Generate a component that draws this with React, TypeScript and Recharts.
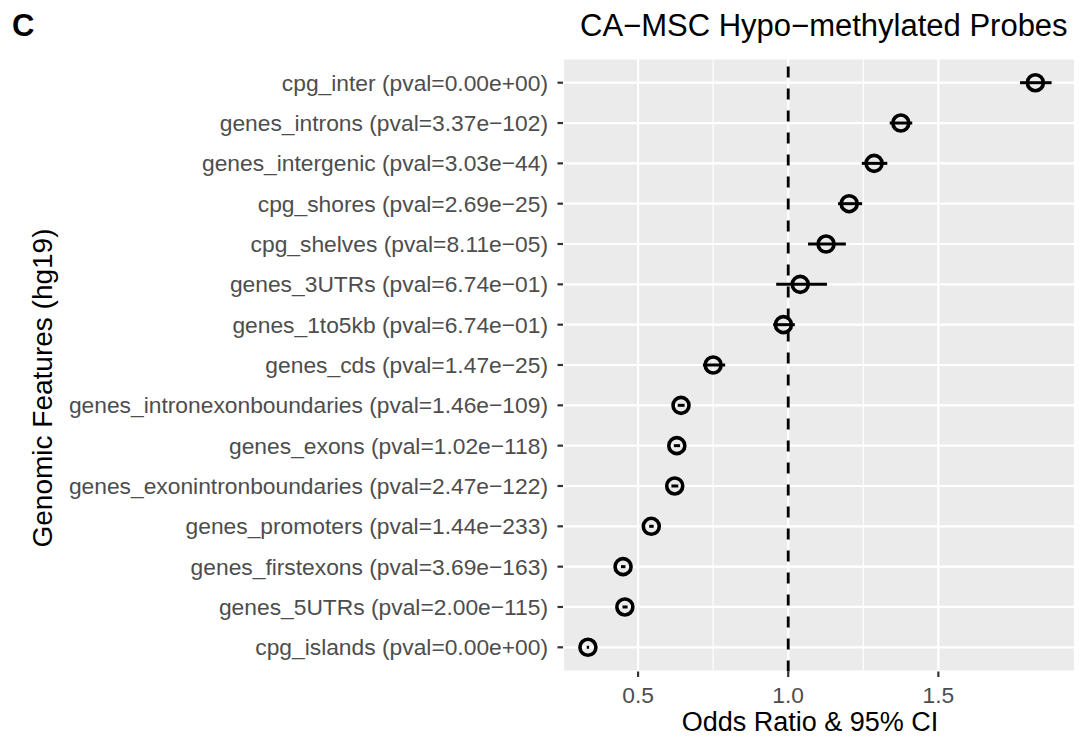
import { CartesianGrid, ErrorBar, ReferenceLine, Scatter, ScatterChart, XAxis, YAxis } from "recharts";

// genomic features, top to bottom as in the figure
const features = [
  "cpg_inter",
  "genes_introns",
  "genes_intergenic",
  "cpg_shores",
  "cpg_shelves",
  "genes_3UTRs",
  "genes_1to5kb",
  "genes_cds",
  "genes_intronexonboundaries",
  "genes_exons",
  "genes_exonintronboundaries",
  "genes_promoters",
  "genes_firstexons",
  "genes_5UTRs",
  "cpg_islands",
];

const pvals = [
  "0.00e+00",
  "3.37e−102",
  "3.03e−44",
  "2.69e−25",
  "8.11e−05",
  "6.74e−01",
  "6.74e−01",
  "1.47e−25",
  "1.46e−109",
  "1.02e−118",
  "2.47e−122",
  "1.44e−233",
  "3.69e−163",
  "2.00e−115",
  "0.00e+00",
];

const oddsRatio = [1.823, 1.375, 1.286, 1.203, 1.126, 1.04, 0.984, 0.75, 0.643, 0.629, 0.622, 0.544, 0.45, 0.456, 0.333];
const ciLow = [1.772, 1.338, 1.245, 1.166, 1.066, 0.96, 0.95, 0.716, 0.632, 0.619, 0.611, 0.537, 0.443, 0.448, 0.329];
const ciHigh = [1.877, 1.413, 1.33, 1.246, 1.192, 1.129, 1.022, 0.79, 0.655, 0.64, 0.634, 0.552, 0.458, 0.465, 0.337];

const xTicks = [0.5, 1.0, 1.5];
const xMinor = [0.75, 1.25];
const xDomain = [0.25, 1.955];

const FONT = "'Liberation Sans', Arial, Helvetica, sans-serif";

const rows = features.map((f, i) => ({
  feature: f,
  label: `${f} (pval=${pvals[i]})`,
  row: features.length - i,
  or: oddsRatio[i],
  err: [oddsRatio[i] - ciLow[i], ciHigh[i] - oddsRatio[i]],
}));

const labelByRow: Record<number, string> = {};
rows.forEach((r) => {
  labelByRow[r.row] = r.label;
});

const OpenCircle = (p: any) => (
  <circle cx={p.cx} cy={p.cy} r={8} fill="none" stroke="#000" strokeWidth={3.6} />
);

export default function App() {
  return (
    <div style={{ position: "absolute", left: 0, top: 0, width: 1085, height: 737, background: "#fff", fontFamily: FONT }}>
      <ScatterChart width={1085} height={737} margin={{ top: 58.5, right: 10, bottom: 0, left: 0 }}>
        {/* minor grid from a hidden axis */}
        <CartesianGrid xAxisId="minor" fill="#EBEBEB" stroke="#fff" strokeWidth={1.1} horizontal={false} />
        <CartesianGrid stroke="#fff" strokeWidth={2.2} fillOpacity={0} />
        <XAxis xAxisId="minor" type="number" dataKey="or" domain={xDomain} allowDataOverflow ticks={xMinor} hide />
        <XAxis
          type="number"
          dataKey="or"
          domain={xDomain}
          allowDataOverflow
          ticks={xTicks}
          interval={0}
          tickFormatter={(v: number) => v.toFixed(1)}
          height={65.5}
          axisLine={false}
          tickSize={5.5}
          tickMargin={9.5}
          tickLine={{ stroke: "#333", strokeWidth: 2.2 }}
          tick={{ fill: "#4D4D4D", fontSize: 22.8, fontFamily: FONT }}
        />
        <YAxis
          type="number"
          dataKey="row"
          domain={[0.4, 15.6]}
          allowDataOverflow
          ticks={rows.map((r) => r.row)}
          interval={0}
          tickFormatter={(v: number) => labelByRow[v] ?? ""}
          width={563}
          axisLine={false}
          tickSize={5.5}
          tickMargin={9.5}
          tickLine={{ stroke: "#333", strokeWidth: 2.2 }}
          tick={{ fill: "#4D4D4D", fontSize: 22.8, fontFamily: FONT }}
        />
        <ReferenceLine x={1} stroke="#000" strokeWidth={2.8} strokeDasharray="11 11" />
        <Scatter data={rows} shape={OpenCircle} isAnimationActive={false}>
          <ErrorBar dataKey="err" direction="x" width={0} stroke="#000" strokeWidth={3} isAnimationActive={false} />
        </Scatter>
      </ScatterChart>
      <svg width={1085} height={737} style={{ position: "absolute", left: 0, top: 0, pointerEvents: "none" }}>
        <text x={12} y={36} fontSize={31} fontWeight="bold" fill="#000" fontFamily={FONT}>
          C
        </text>
        <text x={580} y={36} fontSize={31} fill="#000" fontFamily={FONT}>
          CA−MSC Hypo−methylated Probes
        </text>
        <text x={810} y={731} fontSize={27} fill="#000" textAnchor="middle" fontFamily={FONT}>
          Odds Ratio &amp; 95% CI
        </text>
        <text x={52} y={388} fontSize={28} fill="#000" textAnchor="middle" transform="rotate(-90, 52, 388)" fontFamily={FONT}>
          Genomic Features (hg19)
        </text>
      </svg>
    </div>
  );
}
